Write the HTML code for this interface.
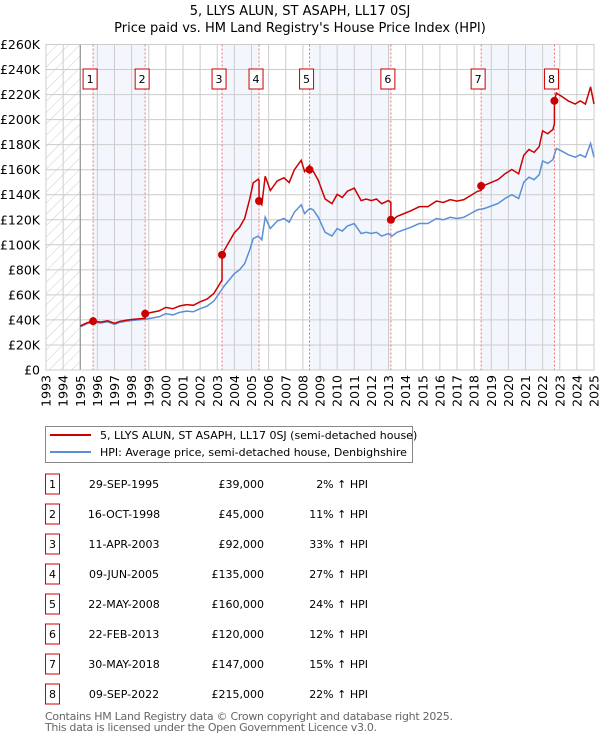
<!DOCTYPE html>
<html><head><meta charset="utf-8"><style>
body{margin:0;background:#fff;}
svg{display:block;font-family:"DejaVu Sans","Liberation Sans",sans-serif;}
</style></head><body>
<svg id="chart" width="600" height="740" viewBox="0 0 600 740" xmlns="http://www.w3.org/2000/svg">
<defs>
<pattern id="hatch" patternUnits="userSpaceOnUse" width="8" height="8" patternTransform="rotate(45)">
<line x1="0" y1="0" x2="0" y2="8" stroke="#ccc" stroke-width="1"/>
</pattern>
</defs>
<text x="300" y="15" text-anchor="middle" font-size="13">5, LLYS ALUN, ST ASAPH, LL17 0SJ</text>
<text x="300" y="32" text-anchor="middle" font-size="13">Price paid vs. HM Land Registry's House Price Index (HPI)</text>
<g id="plot"></g>
<g>
<rect x="45.5" y="426.5" width="367" height="36" fill="#fff" stroke="#888"/>
<line x1="50" y1="435" x2="91" y2="435" stroke="#cc0000" stroke-width="2"/>
<text x="100" y="439" font-size="11">5, LLYS ALUN, ST ASAPH, LL17 0SJ (semi-detached house)</text>
<line x1="50" y1="452" x2="91" y2="452" stroke="#5b8fd6" stroke-width="2"/>
<text x="100" y="456" font-size="11">HPI: Average price, semi-detached house, Denbighshire</text>
</g>
<g id="table"></g>
<text x="45" y="720" font-size="11" fill="#666" textLength="408">Contains HM Land Registry data © Crown copyright and database right 2025.</text>
<text x="45" y="731" font-size="11" fill="#666" textLength="332">This data is licensed under the Open Government Licence v3.0.</text>
</svg>
<script>
const yTicks=[0,20,40,60,80,100,120,140,160,180,200,220,240,260];
const yTickLabels=["£0","£20K","£40K","£60K","£80K","£100K","£120K","£140K","£160K","£180K","£200K","£220K","£240K","£260K"];
const years=[1993,1994,1995,1996,1997,1998,1999,2000,2001,2002,2003,2004,2005,2006,2007,2008,2009,2010,2011,2012,2013,2014,2015,2016,2017,2018,2019,2020,2021,2022,2023,2024,2025];
const hpiDates=[1995.0,1995.4,1995.75,1996.2,1996.6,1997.0,1997.3,1997.7,1998.0,1998.4,1998.8,1999.2,1999.6,2000.0,2000.4,2000.8,2001.2,2001.6,2002.0,2002.4,2002.8,2003.1,2003.4,2003.7,2004.0,2004.3,2004.6,2004.9,2005.1,2005.4,2005.6,2005.8,2006.1,2006.5,2006.9,2007.2,2007.5,2007.9,2008.1,2008.4,2008.6,2008.9,2009.3,2009.7,2010.0,2010.3,2010.6,2011.0,2011.4,2011.7,2012.0,2012.3,2012.6,2013.0,2013.2,2013.5,2013.9,2014.3,2014.8,2015.3,2015.8,2016.2,2016.6,2017.0,2017.4,2017.8,2018.2,2018.6,2019.0,2019.4,2019.8,2020.2,2020.6,2020.9,2021.2,2021.5,2021.8,2022.0,2022.3,2022.6,2022.8,2023.1,2023.5,2023.9,2024.2,2024.5,2024.8,2025.0];
const hpiValues=[34.5,37,38.2,37.5,38.5,36.5,38,39,39.5,40,40.5,41.5,42.5,45,44,46,47,46.5,49,51,55,61,67,72,77,80,85,96,105,107,104,122,113,119,121,118,126,132,125,129,128,122,110,107,113,111,115,117,109,110,109,110,107,109,107,110,112,114,117,117,121,120,122,121,122,125,128,129,131,133,137,140,137,150,154,152,156,167,165,168,177,175,172,170,172,170,181,170];
const saleDates=[1995.75,1998.79,2003.28,2005.44,2008.39,2013.14,2018.41,2022.69];
const salePrices=[39,45,92,135,160,120,147,215];
const saleLabels=["1","2","3","4","5","6","7","8"];
const saleDateText=["29-SEP-1995","16-OCT-1998","11-APR-2003","09-JUN-2005","22-MAY-2008","22-FEB-2013","30-MAY-2018","09-SEP-2022"];
const salePriceText=["£39,000","£45,000","£92,000","£135,000","£160,000","£120,000","£147,000","£215,000"];
const saleHpiText=["2% ↑ HPI","11% ↑ HPI","33% ↑ HPI","27% ↑ HPI","24% ↑ HPI","12% ↑ HPI","15% ↑ HPI","22% ↑ HPI"];

const NS="http://www.w3.org/2000/svg";
const L=46,R=594,T=44.5,B=370;
const xS=v=>L+(v-1993)/(2025-1993)*(R-L);
const yS=v=>B-v/260*(B-T);
function mk(p,tag,at){const e=document.createElementNS(NS,tag);for(const k in at)e.setAttribute(k,at[k]);p.appendChild(e);return e;}
function hpiAt(d){for(let i=1;i<hpiDates.length;i++){if(d<=hpiDates[i]){const t=(d-hpiDates[i-1])/(hpiDates[i]-hpiDates[i-1]);return hpiValues[i-1]+t*(hpiValues[i]-hpiValues[i-1]);}}return hpiValues[hpiValues.length-1];}
const plot=document.getElementById('plot');
for(let i=0;i+1<saleDates.length;i+=2){
 const a=xS(saleDates[i]),b=xS(saleDates[i+1]);
 const r=mk(plot,'rect',{x:a,y:T,width:b-a,height:B-T,fill:'#eef3fc',opacity:0.7});
 
 
}
const h=mk(plot,'rect',{x:L,y:T,width:xS(1995)-L,height:B-T,fill:'url(#hatch)'});


years.forEach(y=>{const g=mk(plot,'line',{x1:xS(y),x2:xS(y),y1:T,y2:B,stroke:'#ccc','stroke-width':1});
 
 
 const t=mk(plot,'text',{x:0,y:0,'font-size':12.5,'text-anchor':'end',transform:`translate(${xS(y)+4.5},${B+5}) rotate(-90)`});t.textContent=y;
 
 
});
yTicks.forEach((v,i)=>{const g=mk(plot,'line',{x1:L,x2:R,y1:yS(v),y2:yS(v),stroke:'#ccc','stroke-width':1});
 
 
 const t=mk(plot,'text',{x:L-6,y:yS(v)+4.5,'font-size':12.5,'text-anchor':'end'});t.textContent=yTickLabels[i];
 
 
});
const ax=mk(plot,'line',{x1:xS(1995),x2:xS(1995),y1:T,y2:B,stroke:'#888','stroke-width':1});


const fr=mk(plot,'rect',{x:L,y:T,width:R-L,height:B-T,fill:'none',stroke:'#ccc'});


saleDates.forEach((d,i)=>{const l=mk(plot,'line',{x1:xS(d),x2:xS(d),y1:T,y2:B,stroke:'#f07070','stroke-width':1,'stroke-dasharray':'2,2'});
 
 
});
const hp=mk(plot,'polyline',{points:hpiDates.map((d,i)=>xS(d)+','+yS(hpiValues[i])).join(' '),fill:'none',stroke:'#5b8fd6','stroke-width':1.5});


const ratios=saleDates.map((d,i)=>salePrices[i]/hpiAt(d));
const pts=[];
hpiDates.forEach((d,i)=>{let k=0;for(let j=0;j<saleDates.length;j++)if(d>=saleDates[j])k=j;
 pts.push([d,hpiValues[i]*ratios[k]]);
});
saleDates.forEach((d,j)=>{pts.push([d-0.001,hpiAt(d)*ratios[Math.max(0,j-1)]]);pts.push([d,salePrices[j]]);});
pts.sort((a,b)=>a[0]-b[0]);
const pl=mk(plot,'polyline',{points:pts.map(p=>xS(p[0])+','+yS(p[1])).join(' '),fill:'none',stroke:'#cc0000','stroke-width':1.5});


saleDates.forEach((d,i)=>{
 const c=mk(plot,'circle',{cx:xS(d),cy:yS(salePrices[i]),r:4,fill:'#cc0000'});
 
 
 const g=mk(plot,'g',{});
 
 
 mk(g,'rect',{x:xS(d)-10,y:69,width:14,height:20,fill:'#fff',stroke:'#cc0000'});
 const t=mk(g,'text',{x:xS(d)-3,y:83,'font-size':11,'text-anchor':'middle'});t.textContent=saleLabels[i];
});
const tb=document.getElementById('table');
saleLabels.forEach((s,i)=>{const cy=484+i*30;
 const g=mk(tb,'g',{});
 
 
 mk(g,'rect',{x:45.5,y:cy-10,width:14,height:20,fill:'#fff',stroke:'#cc0000'});
 let t=mk(g,'text',{x:52.5,y:cy+4,'font-size':11,'text-anchor':'middle'});t.textContent=s;
 t=mk(g,'text',{x:124,y:cy+4,'font-size':11,'text-anchor':'middle'});t.textContent=saleDateText[i];
 t=mk(g,'text',{x:264,y:cy+4,'font-size':11,'text-anchor':'end'});t.textContent=salePriceText[i];
 t=mk(g,'text',{x:368,y:cy+4,'font-size':11,'text-anchor':'end'});t.textContent=saleHpiText[i];
});
</script>
</body></html>
